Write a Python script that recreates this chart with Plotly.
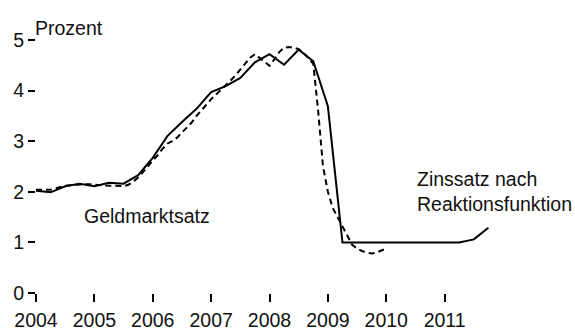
import plotly.graph_objects as go

# Quarterly policy rate implied by the reaction function, 2004Q1-2011Q4 (percent)
reaktionsfunktion = [
    2.02, 1.99, 2.11, 2.16, 2.11, 2.18, 2.16, 2.33,   # 2004-2005
    2.67, 3.10, 3.38, 3.64, 3.97, 4.09, 4.25, 4.56,   # 2006-2007
    4.72, 4.51, 4.81, 4.58, 3.69, 1.00, 1.00, 1.00,   # 2008-2009
    1.00, 1.00, 1.00, 1.00, 1.00, 1.00, 1.06, 1.29,   # 2010-2011
]

# Monthly money market rate, Jan 2004 - Jan 2010 (percent)
geldmarktsatz = [
    2.04, 2.04, 2.03, 2.04, 2.07, 2.10, 2.12, 2.13, 2.14, 2.14, 2.15, 2.15,  # 2004
    2.14, 2.13, 2.13, 2.12, 2.12, 2.11, 2.11, 2.14, 2.20, 2.28, 2.38, 2.50,  # 2005
    2.62, 2.72, 2.85, 2.95, 3.00, 3.07, 3.17, 3.27, 3.37, 3.50, 3.60, 3.72,  # 2006
    3.83, 3.92, 4.00, 4.10, 4.20, 4.30, 4.42, 4.55, 4.65, 4.72, 4.64, 4.56,  # 2007
    4.49, 4.62, 4.76, 4.85, 4.86, 4.85, 4.82, 4.75, 4.65, 4.53, 3.60, 2.50,  # 2008
    2.00, 1.68, 1.50, 1.32, 1.15, 0.95, 0.88, 0.83, 0.80, 0.78, 0.80, 0.84,  # 2009
    0.88,                                                                    # 2010
]

years = [2004, 2005, 2006, 2007, 2008, 2009, 2010, 2011]
y_ticks = [0, 1, 2, 3, 4, 5]

x_quarterly = [years[0] + i / 4 for i in range(len(reaktionsfunktion))]
x_monthly = [years[0] + i / 12 for i in range(len(geldmarktsatz))]

FONT = "Liberation Sans, Arial, sans-serif"
SIZE = 19.5
TXT = "#111111"

fig = go.Figure()
fig.add_trace(go.Scatter(
    x=x_monthly, y=geldmarktsatz, mode="lines",
    line=dict(color="black", width=2, dash="6px,4px"),
    name="Geldmarktsatz", showlegend=False, hoverinfo="skip",
))
fig.add_trace(go.Scatter(
    x=x_quarterly, y=reaktionsfunktion, mode="lines",
    line=dict(color="black", width=2),
    name="Zinssatz nach Reaktionsfunktion", showlegend=False, hoverinfo="skip",
))

fig.update_layout(
    width=575, height=330,
    margin=dict(l=36, r=72, t=40, b=37),
    paper_bgcolor="white", plot_bgcolor="white",
    font=dict(family=FONT, size=SIZE, color=TXT),
    xaxis=dict(
        range=[2004, 2012], showgrid=False, zeroline=False, showline=False,
        ticks="outside", ticklen=8, tickwidth=1.5, tickcolor="black",
        tickvals=years, ticktext=[str(y) for y in years],
        ticklabelstandoff=2, automargin=False,
        tickfont=dict(family=FONT, size=SIZE, color=TXT),
    ),
    yaxis=dict(
        range=[0, 5], showgrid=False, zeroline=False, showline=False,
        ticks="outside", ticklen=7, tickwidth=1.5, tickcolor="black",
        tickvals=y_ticks, ticktext=[str(v) for v in y_ticks],
        automargin=False,
        tickfont=dict(family=FONT, size=SIZE, color=TXT),
    ),
    annotations=[
        dict(text="Prozent", x=2004, y=5, xref="x", yref="y",
             xanchor="left", yanchor="bottom", xshift=-3, yshift=-1,
             showarrow=False, font=dict(family=FONT, size=SIZE, color=TXT)),
        dict(text="Geldmarktsatz", x=2004.84, y=1.52, xref="x", yref="y",
             xanchor="left", yanchor="middle", xshift=-3,
             showarrow=False, font=dict(family=FONT, size=SIZE, color=TXT)),
        dict(text="Zinssatz nach<br>Reaktionsfunktion", x=2010.54, y=2.01,
             xref="x", yref="y", xanchor="left", yanchor="middle", align="left",
             xshift=-3, showarrow=False,
             font=dict(family=FONT, size=SIZE, color=TXT)),
    ],
)

fig.write_html("out.html")
